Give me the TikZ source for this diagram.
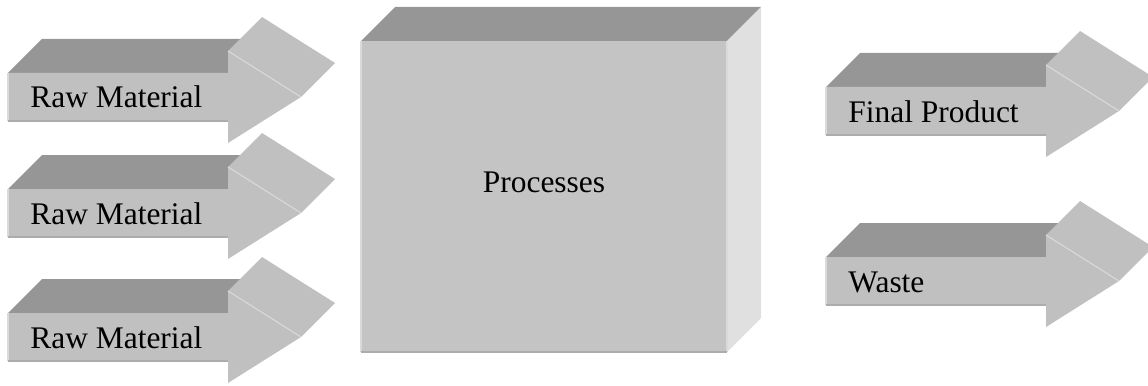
\documentclass[tikz,border=0pt]{standalone}
\usepackage{fontspec}
\setmainfont{Liberation Serif}
\usepackage{tikz}
\definecolor{frontgray}{RGB}{192, 192, 192}
\definecolor{topgray}{RGB}{150, 150, 150}
\definecolor{boxgray}{RGB}{196, 196, 196}
\definecolor{sidegray}{RGB}{224, 224, 224}
\definecolor{edgelight}{RGB}{218, 218, 218}
\definecolor{edgedark}{RGB}{172, 172, 172}

\tikzset{
  front/.style={fill=frontgray},
  topside/.style={fill=topgray},
  hilite/.style={draw=edgelight, line width=0.6pt},
  lowlite/.style={draw=edgedark, line width=0.6pt},
  tag/.style={inner sep=0pt, font=\fontsize{17.9}{21}\selectfont}
}

% 3D block arrow: x, y of the shaft's left middle, node name, text
\newcommand{\flowarrow}[4]{
  \begin{scope}[shift={(#1,#2)}]
    \path[topside] (0,-24) -- (34,-58) -- (254,-58) -- (220,-24) -- cycle;
    \path[front] (220,-46) -- (254,-80) -- (327,-34) -- (293,0) -- cycle;
    \path[front] (0,-24) -- (220,-24) -- (220,-46) -- (293,0) -- (220,46)
      -- (220,24) -- (0,24) -- cycle;
    \draw[hilite] (220,-46) -- (293,0);
    \draw[hilite] (0,-24) -- (0,24);
    \draw[lowlite] (0,24) -- (220,24);
    \node[tag, anchor=base west] (#3) at (22,11) {#4};
  \end{scope}
}

\begin{document}
\begin{tikzpicture}[x=0.02cm, y=-0.02cm]
  \useasboundingbox (0,0) rectangle (1148,385);

  % the process block
  \path[topside] (361,41) -- (395,7) -- (761,7) -- (727,41) -- cycle;
  \path[fill=sidegray] (727,41) -- (761,7) -- (761,318) -- (727,352) -- cycle;
  \path[fill=boxgray] (361,41) rectangle (727,352);
  \draw[hilite] (361,41) -- (361,352);
  \draw[hilite] (727,41) -- (727,352);
  \draw[lowlite] (361,352) -- (727,352);
  \node[tag, anchor=base] (proc) at (544,192) {Processes};

  % inputs
  \flowarrow{8}{97}{raw1}{Raw Material}
  \flowarrow{8}{213}{raw2}{Raw Material}
  \flowarrow{8}{337}{raw3}{Raw Material}

  % outputs
  \flowarrow{826}{111}{product}{Final Product}
  \flowarrow{826}{281}{waste}{Waste}
\end{tikzpicture}
\end{document}
